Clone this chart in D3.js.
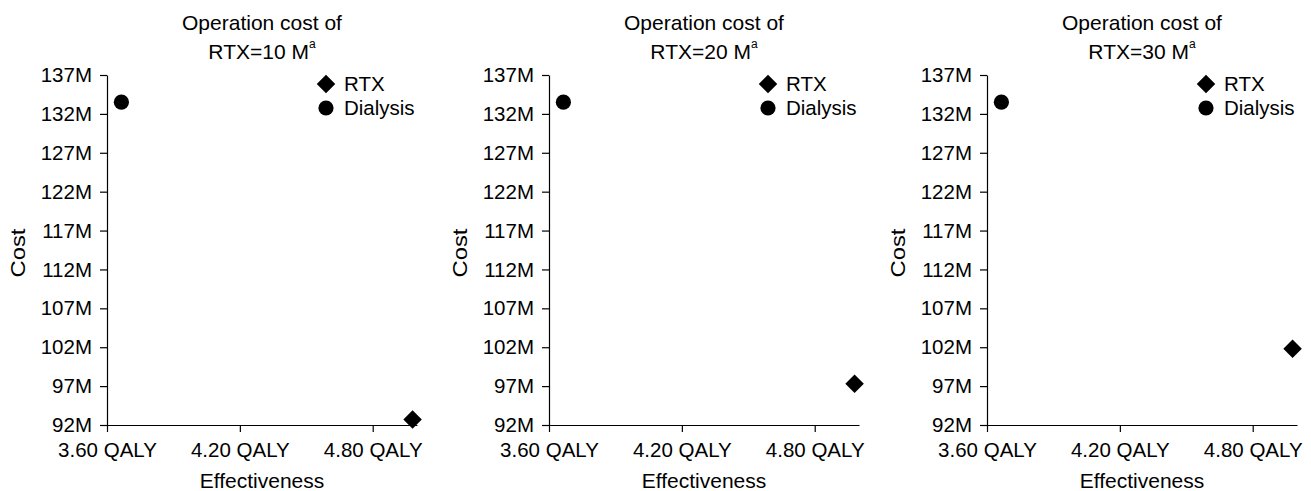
<!DOCTYPE html>
<html>
<head>
<meta charset="utf-8">
<script src="https://cdn.jsdelivr.net/npm/d3@7"></script>
<style>
  html, body { margin: 0; padding: 0; background: #fff; }
  svg { display: block; font-family: "Liberation Sans", Arial, sans-serif; }
</style>
</head>
<body>
<svg id="chart" width="1311" height="491"></svg>
<script>
// ---- data ----
const panelCosts = ["10", "20", "30"];          // operation cost of RTX (M)
const rtxEffect = [4.98, 4.98, 4.98];           // QALY
const rtxCost = [92.7, 97.3, 101.8];            // M
const dialysisEffect = [3.665, 3.665, 3.665];   // QALY
const dialysisCost = [133.5, 133.5, 133.5];     // M
const yTicks = [92, 97, 102, 107, 112, 117, 122, 127, 132, 137];
const xTicks = [3.6, 4.2, 4.8];
const legendLabels = ["RTX", "Dialysis"];

// ---- layout ----
const svg = d3.select("#chart");
const panelLeft = [107, 549, 987];
const plotW = 310;
const plotTop = 75, plotBottom = 425;
const fs = 20.5;
const fsTitle = 21;

const diamond = d3.symbol().type(d3.symbolSquare).size(172)();
const black = "#000";

panelCosts.forEach((pc, i) => {
  const g = svg.append("g").attr("transform", `translate(${panelLeft[i]},0)`);
  const x = d3.scaleLinear().domain([3.6, 5.0]).range([0, plotW]);
  const y = d3.scaleLinear().domain([92, 137]).range([plotBottom, plotTop]);

  // y axis
  const ya = g.append("g")
    .call(d3.axisLeft(y).tickValues(yTicks).tickSize(7).tickSizeOuter(0).tickPadding(8)
      .tickFormat(d => d + "M"));
  // x axis
  const xa = g.append("g").attr("transform", `translate(0,${plotBottom})`)
    .call(d3.axisBottom(x).tickValues(xTicks).tickSize(7).tickSizeOuter(0)
      .tickFormat(d => d.toFixed(2) + " QALY"));
  [ya, xa].forEach(a => {
    a.selectAll("text").attr("font-size", fs).attr("fill", black)
      .attr("font-family", '"Liberation Sans", Arial, sans-serif');
    a.selectAll("line,path").attr("stroke", black).attr("stroke-width", 1.2);
  });
  xa.selectAll("text").attr("y", 32).attr("dy", 0);

  // title
  const cx = plotW / 2;
  g.append("text").attr("x", cx).attr("y", 30).attr("text-anchor", "middle")
    .attr("font-size", fsTitle).text("Operation cost of");
  const t2 = g.append("text").attr("x", cx).attr("y", 59).attr("text-anchor", "middle")
    .attr("font-size", fsTitle);
  t2.append("tspan").text(`RTX=${pc} M`);
  t2.append("tspan").attr("font-size", 12).attr("dy", -11).text("a");

  // axis titles
  g.append("text").attr("x", cx).attr("y", 488).attr("text-anchor", "middle")
    .attr("font-size", fsTitle).text("Effectiveness");
  g.append("text").attr("transform", `translate(${-82},${253}) rotate(-90)`)
    .attr("text-anchor", "middle").attr("font-size", fsTitle)
    .attr("textLength", 49).attr("lengthAdjust", "spacingAndGlyphs").text("Cost");

  // points
  g.append("circle").attr("cx", x(dialysisEffect[i])).attr("cy", y(dialysisCost[i]))
    .attr("r", 7.6).attr("fill", black);
  g.append("path").attr("d", diamond)
    .attr("transform", `translate(${x(rtxEffect[i])},${y(rtxCost[i])}) rotate(45)`)
    .attr("fill", black);

  // legend
  const lg = g.append("g").attr("transform", "translate(219,0)");
  lg.append("path").attr("d", diamond).attr("transform", "translate(0,84) rotate(45)").attr("fill", black);
  lg.append("circle").attr("cx", 0).attr("cy", 108).attr("r", 7.6).attr("fill", black);
  legendLabels.forEach((l, j) => {
    lg.append("text").attr("x", 18).attr("y", 84 + j * 24).attr("dy", "0.36em")
      .attr("font-size", fs).text(l);
  });
});
</script>
</body>
</html>
